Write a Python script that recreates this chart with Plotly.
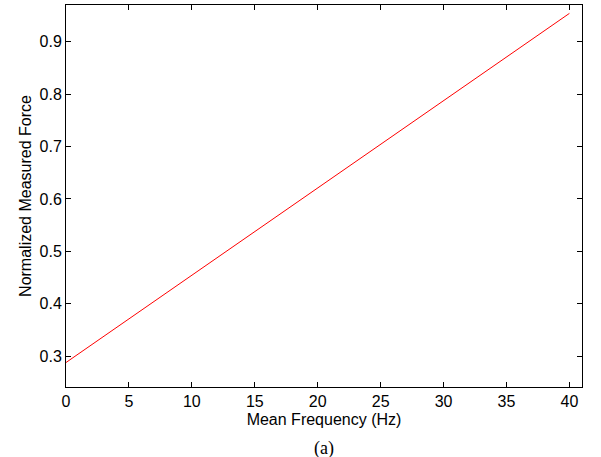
import plotly.graph_objects as go

freq = [0, 40]
force = [0.288, 0.954]
x_ticks = [0, 5, 10, 15, 20, 25, 30, 35, 40]
y_ticks = [0.3, 0.4, 0.5, 0.6, 0.7, 0.8, 0.9]

font_sans = "Liberation Sans, Arial"

fig = go.Figure()
fig.add_trace(go.Scatter(x=freq, y=force, mode="lines",
                         line=dict(color="#ff0000", width=1), showlegend=False))

axis_common = dict(showline=True, linecolor="black", linewidth=1, mirror="ticks",
                   ticks="inside", ticklen=5, tickcolor="black", showgrid=False,
                   zeroline=False, tickfont=dict(family=font_sans, size=16, color="black"))

fig.update_layout(
    width=601, height=457,
    margin=dict(l=66, r=19, t=5, b=70),
    plot_bgcolor="white", paper_bgcolor="white",
    xaxis=dict(range=[0, 41], tickvals=x_ticks,
               title=dict(text="Mean Frequency (Hz)", standoff=4,
                          font=dict(family=font_sans, size=16, color="black")),
               **axis_common),
    yaxis=dict(range=[0.2413, 0.970], tickvals=y_ticks,
               title=dict(text="Normalized Measured Force", standoff=3,
                          font=dict(family=font_sans, size=16, color="black")),
               **axis_common),
    annotations=[dict(text="(a)", xref="paper", yref="paper", x=0.5, y=0,
                      yshift=-49, yanchor="top", xanchor="center", showarrow=False,
                      font=dict(family="Liberation Serif, Times New Roman", size=18, color="black"))],
)

fig.write_html("out.html")
